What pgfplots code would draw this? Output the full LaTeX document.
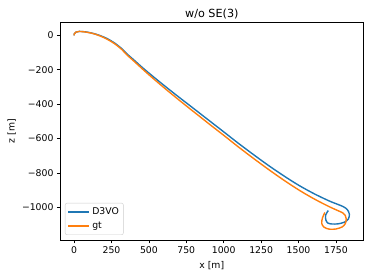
\documentclass[border=0pt]{standalone}
\usepackage{fontspec}
\setmainfont{DejaVu Sans}
\usepackage{pgfplots}
\pgfplotsset{compat=1.18}
\definecolor{mplblue}{HTML}{1F77B4}
\definecolor{mplorange}{HTML}{FF7F0E}
\pgfplotsset{every axis title shift=0pt}
\begin{document}
\begin{tikzpicture}
\useasboundingbox (0,0) rectangle (374pt,278pt);
\begin{axis}[
  at={(60.3pt,38pt)}, anchor=south west,
  scale only axis, width=303pt, height=217.7pt,
  xmin=-92, xmax=1933, ymin=-1190, ymax=76,
  xtick={0,250,500,750,1000,1250,1500,1750},
  xticklabels={0,250,500,750,1000,1250,1500,1750},
  ytick={-1000,-800,-600,-400,-200,0},
  yticklabels={−1000,−800,−600,−400,−200,0},
  tick align=outside, tick pos=left,
  major tick length=3.3pt,
  tick style={black, line width=0.75pt},
  axis line style={black, line width=0.75pt},
  ticklabel style={font=\fontsize{9.3}{11}\selectfont},
  xlabel={x [m]}, ylabel={z [m]},
  label style={font=\fontsize{9.3}{11}\selectfont},
  xlabel style={at={(axis description cs:0.5,-0.118)}, anchor=center},
  ylabel style={at={(axis description cs:-0.160,0.5)}, anchor=center},
  title={w/o SE(3)},
  title style={font=\fontsize{11.2}{13}\selectfont, at={(axis description cs:0.5,1.023)}, anchor=base},
  legend style={at={(0.0155,0.023)}, anchor=south west, draw=black!20, rounded corners=2pt,
    font=\fontsize{9.3}{11}\selectfont, inner sep=2.5pt, row sep=2.3pt,
    /tikz/every even column/.append style={column sep=6pt}},
  legend cell align=left,
  legend image code/.code={\draw[#1, line width=1.6pt] (0pt,0pt) -- (21pt,0pt);},
]
\addplot[mplblue, line width=1.4pt, smooth, tension=0.5] coordinates {
(0,0) (2,9) (13,19) (35,23) (80,20) (125,12) (170,0) (220,-18) (270,-44)
(320,-78) (350,-105) (400,-143) (450,-182) (500,-219) (560,-262) (620,-304)
(690,-352) (760,-399) (840,-453) (920,-507) (1000,-561) (1100,-629)
(1200,-694) (1300,-757) (1400,-816) (1500,-871) (1600,-919) (1700,-961)
(1760,-982) (1799,-996) (1826,-1013) (1840,-1040) (1833,-1068) (1808,-1086)
(1765,-1096) (1725,-1097) (1697,-1092) (1683,-1074) (1681,-1045) (1699,-1019)
};
\addlegendentry{D3VO}
\addplot[mplorange, line width=1.4pt, smooth, tension=0.5] coordinates {
(0,0) (2,9) (13,19) (35,23) (80,19) (125,11) (170,-2) (220,-22) (270,-48)
(320,-83) (350,-111) (400,-150) (450,-190) (500,-229) (560,-274) (620,-318)
(690,-368) (760,-417) (840,-472) (920,-527) (1000,-581) (1100,-650)
(1200,-716) (1300,-780) (1400,-841) (1500,-898) (1600,-949) (1700,-994)
(1760,-1018) (1795,-1032) (1813,-1048) (1819,-1068) (1813,-1094) (1792,-1114)
(1750,-1126) (1705,-1127) (1670,-1115) (1655,-1093) (1660,-1062) (1676,-1030)
};
\addlegendentry{gt}
\end{axis}
\end{tikzpicture}
\end{document}
